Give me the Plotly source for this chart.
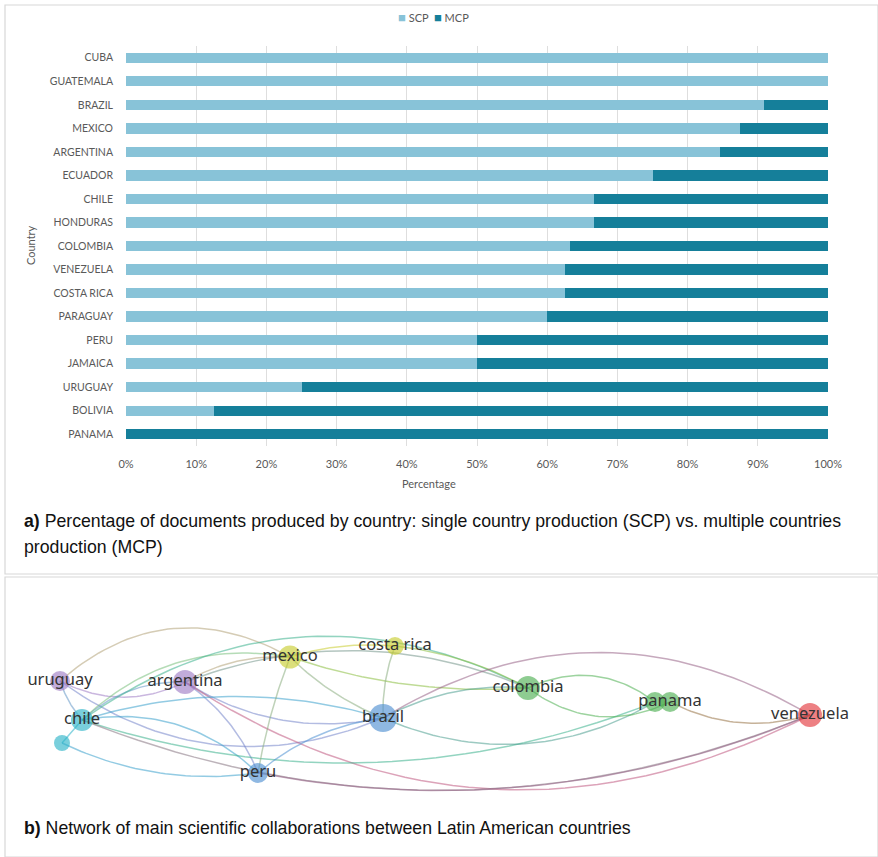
import numpy as np
import plotly.graph_objects as go

W, H = 878, 857

# ---------------- data: panel a ----------------
countries = ["CUBA", "GUATEMALA", "BRAZIL", "MEXICO", "ARGENTINA", "ECUADOR", "CHILE",
             "HONDURAS", "COLOMBIA", "VENEZUELA", "COSTA RICA", "PARAGUAY", "PERU",
             "JAMAICA", "URUGUAY", "BOLIVIA", "PANAMA"]
scp = [100, 100, 90.9, 87.5, 84.6, 75.0, 66.7, 66.7, 63.2, 62.5, 62.5, 60.0, 50.0, 50.0, 25.0, 12.5, 0.0]
mcp = [100 - v for v in scp]
x_ticks = [0, 10, 20, 30, 40, 50, 60, 70, 80, 90, 100]

# ---------------- data: panel b (network, layout coordinates) ----------------
node_names = ["uruguay", "argentina", "mexico", "costa rica", "chile", "chile2", "brazil",
              "peru", "colombia", "panama", "panama2", "venezuela"]
node_labels = ["uruguay", "argentina", "mexico", "costa rica", "chile", "", "brazil",
               "peru", "colombia", "", "panama", "venezuela"]
node_x = [60, 185, 290, 395, 82, 62, 383, 258, 528, 655, 670, 810]
node_y = [681, 682, 657, 646, 720, 743, 718, 773, 688, 702, 702, 715]
node_cluster = [1, 1, 2, 2, 3, 3, 4, 4, 5, 5, 5, 6]
node_weight = [20, 24, 23, 18, 22, 16, 28, 20, 24, 20, 20, 24]

edge_src = ["uruguay", "uruguay", "uruguay", "uruguay", "argentina", "argentina", "argentina",
            "argentina", "argentina", "chile", "chile", "chile", "chile", "chile", "chile",
            "chile", "chile2", "chile2", "mexico", "mexico", "mexico", "mexico", "costa rica",
            "costa rica", "peru", "peru", "brazil", "brazil", "brazil", "colombia", "colombia",
            "panama2"]
edge_dst = ["argentina", "chile", "brazil", "mexico", "mexico", "brazil", "peru",
            "venezuela", "colombia", "argentina", "mexico", "colombia", "brazil", "peru", "panama",
            "venezuela", "chile", "peru", "brazil", "peru", "colombia", "costa rica", "brazil",
            "colombia", "brazil", "venezuela", "colombia", "panama", "venezuela", "panama", "panama2",
            "venezuela"]
edge_bend = [0.25, 0.1, 0.28, -0.35, -0.15, 0.2, -0.15,
             0.29, -0.2, -0.2, -0.25, -0.3, -0.15, -0.25, 0.18,
             0.2, 0.0, 0.15, 0.1, 0.05, 0.1, -0.1, 0.1,
             -0.1, -0.15, 0.15, -0.15, 0.25, -0.3, -0.3, 0.3,
             0.2]

cluster_colors = {1: (158, 123, 196), 2: (200, 204, 46), 3: (42, 179, 200),
                  4: (77, 143, 209), 5: (76, 175, 80), 6: (226, 54, 59)}

SCP_COLOR = "#88c3d8"
MCP_COLOR = "#157f9a"
GRAY = "#595959"

fig = go.Figure()

# ---------------- panel a: stacked bars ----------------
fig.add_trace(go.Bar(y=countries, x=[v / 100 for v in scp], name="SCP", orientation="h",
                     marker=dict(color=SCP_COLOR, line=dict(width=0)), width=0.44,
                     showlegend=False))
fig.add_trace(go.Bar(y=countries, x=[v / 100 for v in mcp], name="MCP", orientation="h",
                     marker=dict(color=MCP_COLOR, line=dict(width=0)), width=0.44,
                     showlegend=False))

# ---------------- panel b: network ----------------
idx = {n: i for i, n in enumerate(node_names)}
t = np.linspace(0, 1, 40)
for s, d, b in zip(edge_src, edge_dst, edge_bend):
    i, j = idx[s], idx[d]
    x0, y0, x1, y1 = node_x[i], node_y[i], node_x[j], node_y[j]
    dx, dy = x1 - x0, y1 - y0
    L = max(np.hypot(dx, dy), 1e-6)
    cx = (x0 + x1) / 2 + b * L * (-dy / L)
    cy = (y0 + y1) / 2 + b * L * (dx / L)
    bx = (1 - t) ** 2 * x0 + 2 * (1 - t) * t * cx + t ** 2 * x1
    by = (1 - t) ** 2 * y0 + 2 * (1 - t) * t * cy + t ** 2 * y1
    c1, c2 = cluster_colors[node_cluster[i]], cluster_colors[node_cluster[j]]
    col = tuple(int((a + c) / 2) for a, c in zip(c1, c2))
    fig.add_trace(go.Scatter(x=bx, y=by, mode="lines", xaxis="x2", yaxis="y2",
                             line=dict(color="rgba(%d,%d,%d,0.55)" % col, width=1.5),
                             hoverinfo="skip", showlegend=False))

fig.add_trace(go.Scatter(
    x=node_x, y=node_y, mode="markers+text", xaxis="x2", yaxis="y2",
    text=node_labels, textposition="middle center",
    textfont=dict(family="Noto Sans", size=16.5, color="#333333"),
    marker=dict(size=node_weight,
                color=["rgba(%d,%d,%d,0.9)" % cluster_colors[c] for c in node_cluster],
                line=dict(width=0)),
    hoverinfo="text", showlegend=False))

def px(x):
    return x / W

def py(y):
    return 1 - y / H

CAP_FONT = dict(family="Liberation Sans", size=17.7, color="#111111")
ann = [
    dict(text="<span style='color:%s;font-size:13px'>■</span> SCP  "
              "<span style='color:%s;font-size:13px'>■</span> MCP" % (SCP_COLOR, MCP_COLOR),
         x=px(433), y=py(17), xanchor="center", yanchor="middle",
         font=dict(family="Lato", size=11, color=GRAY)),
    dict(text="Country", x=px(30), y=py(245), textangle=-90, xanchor="center", yanchor="middle",
         font=dict(family="Lato", size=11, color=GRAY)),
    dict(text="Percentage", x=px(429), y=py(483), xanchor="center", yanchor="middle",
         font=dict(family="Lato", size=11, color=GRAY)),
    dict(text="<b>a)</b> Percentage of documents produced by country: single country production (SCP) vs. multiple countries",
         x=px(22), y=py(521), xanchor="left", yanchor="middle", font=CAP_FONT),
    dict(text="production (MCP)",
         x=px(22), y=py(547), xanchor="left", yanchor="middle", font=CAP_FONT),
    dict(text="<b>b)</b> Network of main scientific collaborations between Latin American countries",
         x=px(22), y=py(828), xanchor="left", yanchor="middle", font=CAP_FONT),
]
for a in ann:
    a.update(xref="paper", yref="paper", showarrow=False)

shapes = [
    dict(type="rect", xref="paper", yref="paper", x0=px(5), x1=1, y0=py(5), y1=py(574),
         line=dict(color="#d8d8d8", width=1.2)),
    dict(type="rect", xref="paper", yref="paper", x0=px(5), x1=1, y0=py(577), y1=0,
         line=dict(color="#d8d8d8", width=1.2)),
]

fig.update_layout(
    template="none",
    width=W, height=H, autosize=False,
    margin=dict(l=0, r=0, t=0, b=0, pad=0, autoexpand=False),
    paper_bgcolor="white", plot_bgcolor="rgba(0,0,0,0)",
    barmode="stack", bargap=0.55,
    xaxis=dict(domain=[px(126), px(828)], range=[0, 1], tickvals=[v / 100 for v in x_ticks],
               ticktext=["%d%%" % v for v in x_ticks], showgrid=True, gridcolor="#dedede",
               gridwidth=1, zeroline=False, showline=False, ticks="", automargin=False,
               ticklabelstandoff=10,
               tickfont=dict(family="Lato", size=11, color=GRAY), anchor="y"),
    yaxis=dict(domain=[py(446), py(46)], categoryorder="array", categoryarray=countries,
               autorange="reversed", showgrid=False, zeroline=False, showline=False,
               ticks="", ticklabelstandoff=12, automargin=False,
               tickfont=dict(family="Lato", size=10.5, color=GRAY), anchor="x"),
    xaxis2=dict(domain=[0, 1], range=[0, W], visible=False, anchor="y2", fixedrange=True,
                automargin=False),
    yaxis2=dict(domain=[0, py(578)], range=[H, 578], visible=False, anchor="x2", fixedrange=True,
                automargin=False),
    annotations=ann, shapes=shapes,
)

fig.write_html("out.html", config={"displayModeBar": False},
               post_script="document.body.style.margin='0';document.body.style.overflow='hidden';")
